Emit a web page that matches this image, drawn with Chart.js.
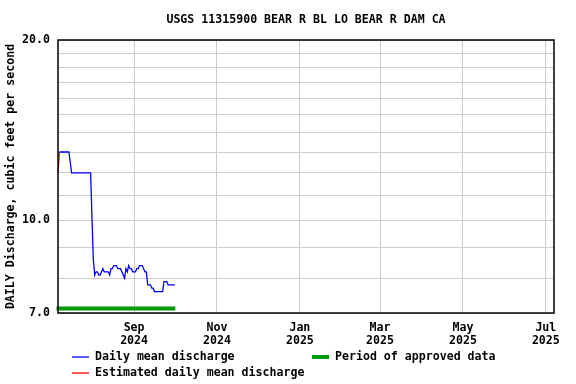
<!DOCTYPE html>
<html>
<head>
<meta charset="utf-8">
<script src="https://cdn.jsdelivr.net/npm/chart.js@4"></script>
<style>
  html, body { margin: 0; padding: 0; background: #fff; }
  #wrap { width: 576px; height: 384px; }
</style>
</head>
<body>
<div id="wrap"><canvas id="chart" width="576" height="384"></canvas></div>
<script>
const chartTitle = "USGS 11315900 BEAR R BL LO BEAR R DAM CA";
const yTitle = "DAILY Discharge, cubic feet per second";

const axisStart = "2024-07-07";
const axisEnd = "2025-07-07";

// estimated values, starting 2024-07-07
const estimatedStart = "2024-07-07";
const estimatedMean = [12.0, 13.0];

// daily mean discharge, starting 2024-07-08
const dailyStart = "2024-07-08";
const dailyMean = [
  13.0, 13.0, 13.0, 13.0, 13.0, 13.0, 13.0, 13.0, 12.5,
  12.0, 12.0, 12.0, 12.0, 12.0, 12.0, 12.0, 12.0, 12.0, 12.0, 12.0, 12.0, 12.0, 12.0, 12.0,
  10.1, 8.6, 8.1, 8.2, 8.2, 8.1, 8.1, 8.2, 8.3, 8.2, 8.2, 8.2, 8.2, 8.1, 8.3, 8.3,
  8.4, 8.4, 8.4, 8.3, 8.3, 8.3, 8.2, 8.1, 8.0, 8.3, 8.2, 8.4, 8.3, 8.3, 8.2, 8.2,
  8.2, 8.3, 8.3, 8.4, 8.4, 8.4, 8.3, 8.2, 8.2, 7.8, 7.8, 7.8, 7.7, 7.7, 7.6, 7.6,
  7.6, 7.6, 7.6, 7.6, 7.6, 7.9, 7.9, 7.9, 7.8, 7.8, 7.8, 7.8, 7.8, 7.8
];

const approvedPeriod = ["2024-07-07", "2024-10-01"];

const monthTicks = ["2024-09-01", "2024-11-01", "2025-01-01", "2025-03-01", "2025-05-01", "2025-07-01"];
const monthLabels = [["Sep", "2024"], ["Nov", "2024"], ["Jan", "2025"], ["Mar", "2025"], ["May", "2025"], ["Jul", "2025"]];

const yGrid = [7, 8, 9, 10, 11, 12, 13, 14, 15, 16, 17, 18, 19, 20];
const yLabeled = [7, 10, 20];

const FONT = "'DejaVu Sans Mono', monospace";

function dayOf(s) {
  const [y, m, d] = s.split("-").map(Number);
  const [y0, m0, d0] = axisStart.split("-").map(Number);
  return (Date.UTC(y, m - 1, d) - Date.UTC(y0, m0 - 1, d0)) / 86400000;
}

function toPoints(start, values) {
  const s = dayOf(start);
  return values.map((v, i) => ({ x: s + i, y: v }));
}

const frame = {
  id: "frame",
  beforeDraw(chart) {
    const { ctx, chartArea: a } = chart;
    ctx.save();
    ctx.fillStyle = "#000";
    ctx.font = "bold 11.6px " + FONT;
    ctx.textAlign = "center";
    ctx.textBaseline = "middle";
    ctx.fillText(chartTitle, (a.left + a.right) / 2, 20);
    ctx.restore();
  },
  afterDatasetsDraw(chart) {
    const { ctx, chartArea: a, scales } = chart;
    ctx.save();
    // approved period bar
    ctx.strokeStyle = "#009900";
    ctx.lineWidth = 4;
    ctx.beginPath();
    ctx.moveTo(scales.x.getPixelForValue(dayOf(approvedPeriod[0])) - 1.5, a.bottom - 4.5);
    ctx.lineTo(scales.x.getPixelForValue(dayOf(approvedPeriod[1])) + 0.5, a.bottom - 4.5);
    ctx.stroke();
    // plot border
    ctx.strokeStyle = "#000";
    ctx.lineWidth = 1.5;
    ctx.strokeRect(a.left, a.top, a.right - a.left, a.bottom - a.top);
    ctx.restore();
  },
  afterDraw(chart) {
    const { ctx } = chart;
    const ds = chart.data.datasets;
    const items = [
      { label: ds[0].label, color: ds[0].borderColor, w: 1.3, x: 72, y: 357 },
      { label: ds[1].label, color: ds[1].borderColor, w: 1.3, x: 72, y: 373 },
      { label: "Period of approved data", color: "#009900", w: 4, x: 312, y: 357 }
    ];
    ctx.save();
    ctx.font = "bold 11.6px " + FONT;
    ctx.textBaseline = "middle";
    ctx.textAlign = "left";
    items.forEach((it) => {
      ctx.strokeStyle = it.color;
      ctx.lineWidth = it.w;
      ctx.beginPath();
      ctx.moveTo(it.x, it.y);
      ctx.lineTo(it.x + 17, it.y);
      ctx.stroke();
      ctx.fillStyle = "#000";
      ctx.fillText(it.label, it.x + 23, it.y);
    });
    ctx.restore();
  }
};

new Chart(document.getElementById("chart"), {
  type: "line",
  data: {
    datasets: [
      {
        label: "Daily mean discharge",
        data: toPoints(dailyStart, dailyMean),
        borderColor: "#0000ff",
        borderWidth: 1.3,
        pointRadius: 0,
        tension: 0
      },
      {
        label: "Estimated daily mean discharge",
        data: toPoints(estimatedStart, estimatedMean),
        borderColor: "#ff0000",
        borderWidth: 1.3,
        pointRadius: 0,
        tension: 0
      }
    ]
  },
  options: {
    responsive: false,
    animation: false,
    layout: { padding: { top: 40, right: 22, left: 0, bottom: 0 } },
    plugins: {
      legend: { display: false },
      tooltip: { enabled: false }
    },
    scales: {
      x: {
        type: "linear",
        min: 0,
        max: dayOf(axisEnd),
        afterFit(scale) { scale.height = 71; },
        afterBuildTicks(scale) {
          scale.ticks = monthTicks.map((d) => ({ value: dayOf(d) }));
        },
        ticks: {
          autoSkip: false,
          maxRotation: 0,
          padding: 9,
          color: "#000",
          font: { family: FONT, size: 11.6, weight: "bold", lineHeight: 1.1 },
          callback: (v, i) => monthLabels[i]
        },
        grid: { color: "#cccccc", lineWidth: 1, drawTicks: false },
        border: { display: false }
      },
      y: {
        type: "logarithmic",
        min: 7,
        max: 20,
        afterFit(scale) { scale.width = 58; },
        afterBuildTicks(scale) {
          scale.ticks = yGrid.map((v) => ({ value: v }));
        },
        ticks: {
          autoSkip: false,
          padding: 8,
          color: "#000",
          font: { family: FONT, size: 11.6, weight: "bold" },
          callback: (v) => (yLabeled.includes(v) ? v.toFixed(1) : "")
        },
        title: {
          display: true,
          text: yTitle,
          color: "#000",
          padding: { top: 4, bottom: 0 },
          font: { family: FONT, size: 11.6, weight: "bold" }
        },
        grid: { color: "#cccccc", lineWidth: 1, drawTicks: false },
        border: { display: false }
      }
    }
  },
  plugins: [frame]
});
</script>
</body>
</html>
